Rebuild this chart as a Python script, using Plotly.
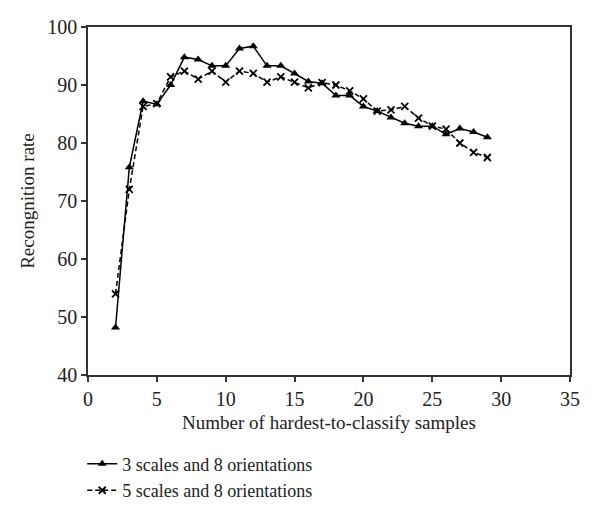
import plotly.graph_objects as go

samples = list(range(2, 30))
rate_3scales = [48.2, 75.8, 87.2, 86.7, 90.0, 94.8, 94.4, 93.3, 93.3, 96.3, 96.7, 93.3, 93.3,
                92.0, 90.6, 90.3, 88.2, 88.2, 86.3, 85.5, 84.4, 83.4, 82.9, 82.9, 81.5, 82.5, 81.9, 81.0]
rate_5scales = [54.0, 72.0, 86.3, 86.8, 91.4, 92.4, 91.0, 92.4, 90.5, 92.4, 92.0, 90.5, 91.4,
                90.5, 89.5, 90.4, 90.0, 89.0, 87.6, 85.5, 85.7, 86.3, 84.3, 82.9, 82.4, 80.0, 78.4, 77.5]

font = "Liberation Serif, Times New Roman, serif"

fig = go.Figure()
fig.add_trace(go.Scatter(
    x=samples, y=rate_3scales, mode='lines+markers',
    name='3 scales and 8 orientations',
    line=dict(color='black', width=1.5),
    marker=dict(symbol='triangle-up', size=8, color='black')
))
fig.add_trace(go.Scatter(
    x=samples, y=rate_5scales, mode='lines+markers',
    name='5 scales and 8 orientations',
    line=dict(color='black', width=1.5, dash='5px,3px'),
    marker=dict(symbol='x-thin', size=7, color='black', line=dict(color='black', width=1.8))
))

axis_style = dict(
    showgrid=False, zeroline=False, showline=True, linecolor='#333', linewidth=1.5,
    mirror=True, ticks='outside', ticklen=5, tickcolor='#333', tickwidth=1.5,
    tickfont=dict(size=20, color='#222'), automargin=False,
)

# page body has an 8px margin, so the plot box is shifted up/left by that
fig.update_layout(
    width=600, height=516,
    margin=dict(l=80, r=38, t=19, b=149, autoexpand=False),
    plot_bgcolor='white', paper_bgcolor='white',
    font=dict(family=font, color='#222', size=19),
    xaxis=dict(range=[0, 35], dtick=5, title=dict(text='Number of hardest-to-classify samples',
                                                   font=dict(size=19), standoff=7), **axis_style),
    yaxis=dict(range=[40, 100], dtick=10, title=dict(text='Recongnition rate', font=dict(size=19),
                                                     standoff=8), **axis_style),
    legend=dict(x=-0.012, xanchor='left', y=-0.203, yanchor='top', yref='paper',
                font=dict(size=18), itemwidth=30, tracegroupgap=0, bgcolor='rgba(0,0,0,0)'),
)

fig.write_html("out.html")
